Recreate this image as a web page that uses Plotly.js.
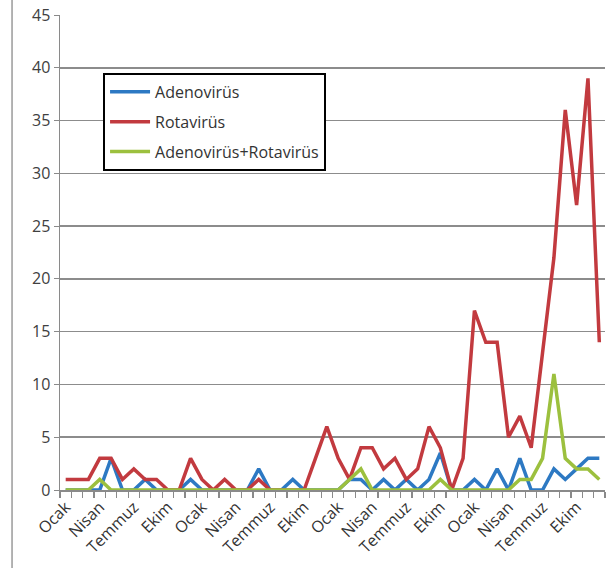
<!DOCTYPE html>
<html>
<head>
<meta charset="utf-8">
<script src="https://cdn.plot.ly/plotly-3.0.1.min.js"></script>
<style>html,body{margin:0;padding:0;background:#fff;}#chart{width:615px;height:568px;}</style>
</head>
<body>
<div id="chart"></div>
<script>
const monthNames = ["Ocak","Şubat","Mart","Nisan","Mayıs","Haziran","Temmuz","Ağustos","Eylül","Ekim","Kasım","Aralık"];
const months = [].concat(monthNames, monthNames, monthNames, monthNames);

const adenovirus = [0,0,0,0,3,0,0,1,0,0,0,1, 0,0,0,0,0,2,0,0,1,0,0,0, 0,1,1,0,1,0,1,0,1,3.5,0,0, 1,0,2,0,3,0,0,2,1,2,3,3];
const rotavirus  = [1,1,1,3,3,1,2,1,1,0,0,3, 1,0,1,0,0,1,0,0,0,0,3,6, 3,1,4,4,2,3,1,2,6,4,0,3, 17,14,14,5,7,4,13,22,36,27,39,14];
const adenoRota  = [0,0,0,1,0,0,0,0,0,0,0,0, 0,0,0,0,0,0,0,0,0,0,0,0, 0,1,2,0,0,0,0,0,0,1,0,0, 0,0,0,0,1,1,3,11,3,2,2,1];

const seriesNames = ["Adenovirüs","Rotavirüs","Adenovirüs+Rotavirüs"];
const seriesColors = ["#2D79C3","#C23A3F","#9CC03E"];
const seriesData = [adenovirus, rotavirus, adenoRota];

const xIdx = months.map((m,i)=>i);
const tickIdx = xIdx.filter(i => i % 3 === 0);
const tickText = tickIdx.map(i => months[i]);

const traces = seriesData.map((d,k)=>({
  x: xIdx, y: d, type:'scatter', mode:'lines', name: seriesNames[k],
  legendgroup: 'g'+k,
  line:{color: seriesColors[k], width:3.5}
}));

const layout = {
  width:615, height:568,
  margin:{l:60, r:10, t:15, b:78},
  paper_bgcolor:'#fff', plot_bgcolor:'#fff',
  font:{family:'Open Sans, sans-serif', color:'#404040'},
  showlegend:true,
  legend:{x:0.079, y:0.878, xanchor:'left', yanchor:'top', bgcolor:'#fff',
    bordercolor:'#000', borderwidth:2, font:{size:16, color:'#333'},
    traceorder:'grouped', tracegroupgap:6, itemwidth:40},
  xaxis:{range:[-0.5,47.5], tickvals:tickIdx, ticktext:tickText, tickangle:-45,
    ticks:'', showgrid:false, zeroline:false, showline:true, linecolor:'#8a8a8a', linewidth:1.5,
    tickfont:{size:16, color:'#333'},
    minor:{ticks:'outside', tick0:-0.5, dtick:1, ticklen:6, tickcolor:'#8a8a8a', tickwidth:1.2, showgrid:false}},
  yaxis:{range:[0,45], dtick:5, tick0:0, ticks:'outside', ticklen:5, tickcolor:'#8a8a8a',
    showgrid:true, gridcolor:'#8c8c8c', gridwidth:1.5, zeroline:false,
    showline:true, linecolor:'#8a8a8a', linewidth:1.5,
    tickfont:{size:16, color:'#404040'}},
  shapes:[{type:'line', xref:'paper', yref:'paper', x0:-0.088, x1:-0.088, y0:-0.165, y1:1.032,
    line:{color:'#9a9a9a', width:1.5}}]
};

Plotly.newPlot('chart', traces, layout, {displayModeBar:false, staticPlot:true});
</script>
</body>
</html>
